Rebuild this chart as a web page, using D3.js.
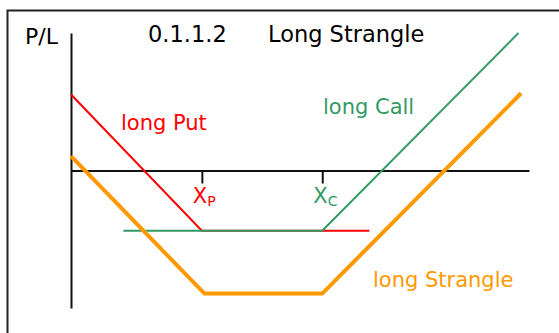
<!DOCTYPE html>
<html>
<head>
<meta charset="utf-8">
<script src="https://cdn.jsdelivr.net/npm/d3@7"></script>
<style>
  html, body { margin: 0; padding: 0; background: #fff; }
  svg { display: block; }
  text { font-family: "DejaVu Sans", Verdana, sans-serif; }
</style>
</head>
<body>
<svg id="chart" width="559" height="333"></svg>
<script>
// ---- data (price, profit/loss) ----
const strikes = [100, 192];            // X_P, X_C
const strikeLabels = ["P", "C"];       // subscripts of X
const putPrice   = [0, 100, 228];
const putPL      = [58, -46, -46];
const callPrice  = [40, 192, 342];
const callPL     = [-46, -46, 105];
const stranglePrice = [0, 102, 192, 344];
const stranglePL    = [11, -94, -94, 59];
const titleParts = ["0.1.1.2", "Long Strangle"];
const yAxisLabel = "P/L";

const svg = d3.select("#chart");

// frame
svg.append("rect")
  .attr("x", 7.5).attr("y", 10.5)
  .attr("width", 600).attr("height", 400)
  .attr("fill", "none").attr("stroke", "#222").attr("stroke-width", 2);

const x = d3.scaleLinear().domain([0, 350]).range([71, 529]);
const y = d3.scaleLinear().domain([-105, 105]).range([308, 33]);

// x axis (at P/L = 0) with strike ticks
const xAxis = d3.axisBottom(x).tickValues(strikes).tickSize(13).tickSizeOuter(0).tickFormat("");
const gx = svg.append("g").attr("transform", `translate(0,${y(0)})`).call(xAxis);
gx.select(".domain").attr("stroke", "#111").attr("stroke-width", 2);
gx.selectAll(".tick line").attr("stroke", "#111").attr("stroke-width", 2);

// y axis
const yAxis = d3.axisLeft(y).tickValues([]).tickSizeOuter(0);
const gy = svg.append("g").attr("transform", `translate(${x(0)},0)`).call(yAxis);
gy.select(".domain").attr("stroke", "#111").attr("stroke-width", 2);

const line = d3.line().x(d => x(d[0])).y(d => y(d[1]));
const zip = (a, b) => a.map((v, i) => [v, b[i]]);

svg.append("path").datum(zip(putPrice, putPL))
  .attr("d", line).attr("fill", "none").attr("stroke", "#ff0000").attr("stroke-width", 2);
svg.append("path").datum(zip(callPrice, callPL))
  .attr("d", line).attr("fill", "none").attr("stroke", "#339966").attr("stroke-width", 2);
svg.append("path").datum(zip(stranglePrice, stranglePL))
  .attr("d", line).attr("fill", "none").attr("stroke", "#ff9900").attr("stroke-width", 4);

// texts
svg.append("text").attr("x", 25).attr("y", 44).attr("font-size", 22)
  .attr("fill", "#000").text(yAxisLabel);
svg.append("text").attr("x", 148).attr("y", 42).attr("font-size", 22.5)
  .attr("fill", "#000").text(titleParts[0]);
svg.append("text").attr("x", 268).attr("y", 42).attr("font-size", 22.5)
  .attr("fill", "#000").text(titleParts[1]);

svg.append("text").attr("x", 121).attr("y", 130).attr("font-size", 21)
  .attr("fill", "#ff0000").text("long Put");
svg.append("text").attr("x", 323).attr("y", 114).attr("font-size", 21)
  .attr("fill", "#339966").text("long Call");
svg.append("text").attr("x", 373).attr("y", 287).attr("font-size", 21)
  .attr("fill", "#ff9900").text("long Strangle");

const strikeColors = ["#ff0000", "#339966"];
strikes.forEach((s, i) => {
  const t = svg.append("text").attr("x", x(s) - 9).attr("y", 203)
    .attr("font-size", 21).attr("fill", strikeColors[i]);
  t.append("tspan").text("X");
  t.append("tspan").attr("font-size", 14).attr("dy", 3).text(strikeLabels[i]);
});
</script>
</body>
</html>
